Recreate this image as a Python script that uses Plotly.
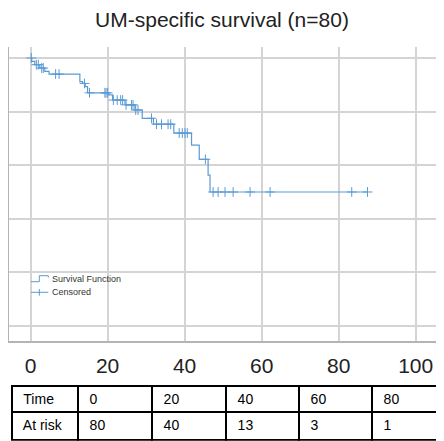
import plotly.graph_objects as go

# ---- data ----
event_times = [0, 0.3, 1.1, 2.4, 3.7, 4.8, 12.8, 13.5, 14.2, 14.8, 20.3, 21.3, 24.5, 27.1,
               29.0, 31.9, 37.2, 41.8, 43.8, 46.1, 46.6, 87.5]
survival = [1.0, 0.9875, 0.975, 0.9625, 0.95, 0.94, 0.912, 0.905, 0.893, 0.87, 0.862, 0.843,
            0.825, 0.806, 0.775, 0.753, 0.72, 0.675, 0.622, 0.563, 0.50, 0.50]

censor_times = [0.2, 1.5, 2.0, 2.9, 3.3, 6.5, 7.4, 14.0, 15.3, 19.3, 19.6, 20.0,
                21.5, 22.5, 23.4, 23.9, 24.8, 26.2, 26.6, 27.3, 27.9, 31.4,
                32.7, 34.0, 35.7, 36.4, 38.6, 39.4, 40.1, 40.7, 45.4,
                47.4, 48.7, 50.5, 52.6, 57.0, 62.2, 83.4, 87.5]
censor_surv = [1.0, 0.975, 0.975, 0.9625, 0.9625, 0.94, 0.94, 0.905, 0.87, 0.87, 0.87, 0.87,
               0.843, 0.843, 0.843, 0.843, 0.825, 0.825, 0.825, 0.806, 0.806, 0.775,
               0.753, 0.753, 0.753, 0.753, 0.72, 0.72, 0.72, 0.72, 0.622,
               0.5, 0.5, 0.5, 0.5, 0.5, 0.5, 0.5, 0.5]

x_ticks = [0, 20, 40, 60, 80, 100]
y_ticks = [0, 0.2, 0.4, 0.6, 0.8, 1.0]

table_times = ["Time", "0", "20", "40", "60", "80"]
table_at_risk = ["At risk", "80", "40", "13", "3", "1"]

legend_labels = ["Survival Function", "Censored"]
title_text = "UM-specific survival (n=80)"

# The page body has an 8px margin, so the figure is sized to fill the rest.
OFF = 8
W, H = 444 - OFF, 441 - OFF
blue = "#5b9bd5"


def px(x):  # page pixel -> paper x
    return (x - OFF) / W


def py(y):  # page pixel -> paper y
    return 1 - (y - OFF) / H


fig = go.Figure()
fig.add_trace(go.Scatter(
    x=event_times, y=survival, mode="lines", line_shape="hv",
    line=dict(color=blue, width=1.2), name=legend_labels[0]))
fig.add_trace(go.Scatter(
    x=censor_times, y=censor_surv, mode="markers", name=legend_labels[1],
    marker=dict(symbol="cross-thin", size=7, line=dict(color=blue, width=1))))

tfont = dict(family="Liberation Sans, Arial", size=14, color="black")
fig.add_trace(go.Table(
    domain=dict(x=[px(11.7), 1.0], y=[0, py(385.7)]),
    columnwidth=[66, 74, 74, 73, 73, 72],
    header=dict(values=[" " + v for v in table_times], align="left", height=26,
                line=dict(color="black", width=2), fill_color="white", font=tfont),
    cells=dict(values=[[" " + v] for v in table_at_risk], align="left", height=28,
               line=dict(color="black", width=2), fill_color="white", font=tfont),
))

# legend (drawn as small shapes + text to match the compact original)
shapes = [
    dict(type="path", xref="paper", yref="paper",
         path=f"M {px(31)},{py(281.7)} L {px(39.3)},{py(281.7)} L {px(39.3)},{py(275.7)} "
              f"L {px(48.3)},{py(275.7)} L {px(48.3)},{py(277.5)}",
         line=dict(color=blue, width=1)),
    dict(type="line", xref="paper", yref="paper", x0=px(31), x1=px(48.3),
         y0=py(292.3), y1=py(292.3), line=dict(color=blue, width=1)),
    dict(type="line", xref="paper", yref="paper", x0=px(39.3), x1=px(39.3),
         y0=py(289), y1=py(295.7), line=dict(color=blue, width=1)),
]
annotations = [
    dict(text=legend_labels[0], xref="paper", yref="paper", x=px(50), y=py(279.3),
         xanchor="left", yanchor="middle", showarrow=False,
         font=dict(size=9, color="#333")),
    dict(text=legend_labels[1], xref="paper", yref="paper", x=px(50), y=py(292.3),
         xanchor="left", yanchor="middle", showarrow=False,
         font=dict(size=9, color="#333")),
]

fig.update_layout(
    width=W, height=H, margin=dict(l=0, r=0, t=0, b=0),
    paper_bgcolor="white", plot_bgcolor="white",
    font=dict(family="Liberation Sans, Arial", color="black"),
    title=dict(text=title_text, x=px(222), xanchor="center", y=py(20), yanchor="middle",
               font=dict(size=21, color="#222")),
    showlegend=False,
    shapes=shapes, annotations=annotations,
    xaxis=dict(domain=[px(9), px(438)], range=[-5.6, 105.8], tickvals=x_ticks,
               showgrid=True, gridcolor="#d4d4d4", gridwidth=1.5,
               showline=True, linecolor="#b4b4b4", linewidth=1.5,
               zeroline=False, ticks="", ticklabelstandoff=5,
               tickfont=dict(size=21, color="#222")),
    yaxis=dict(domain=[py(341), py(47)], range=[-0.056, 1.041], tickvals=y_ticks,
               showgrid=True, gridcolor="#d4d4d4", gridwidth=1.5,
               showline=True, linecolor="#b4b4b4", linewidth=1.5,
               zeroline=False, showticklabels=False, ticks=""),
)

fig.write_html("out.html")
